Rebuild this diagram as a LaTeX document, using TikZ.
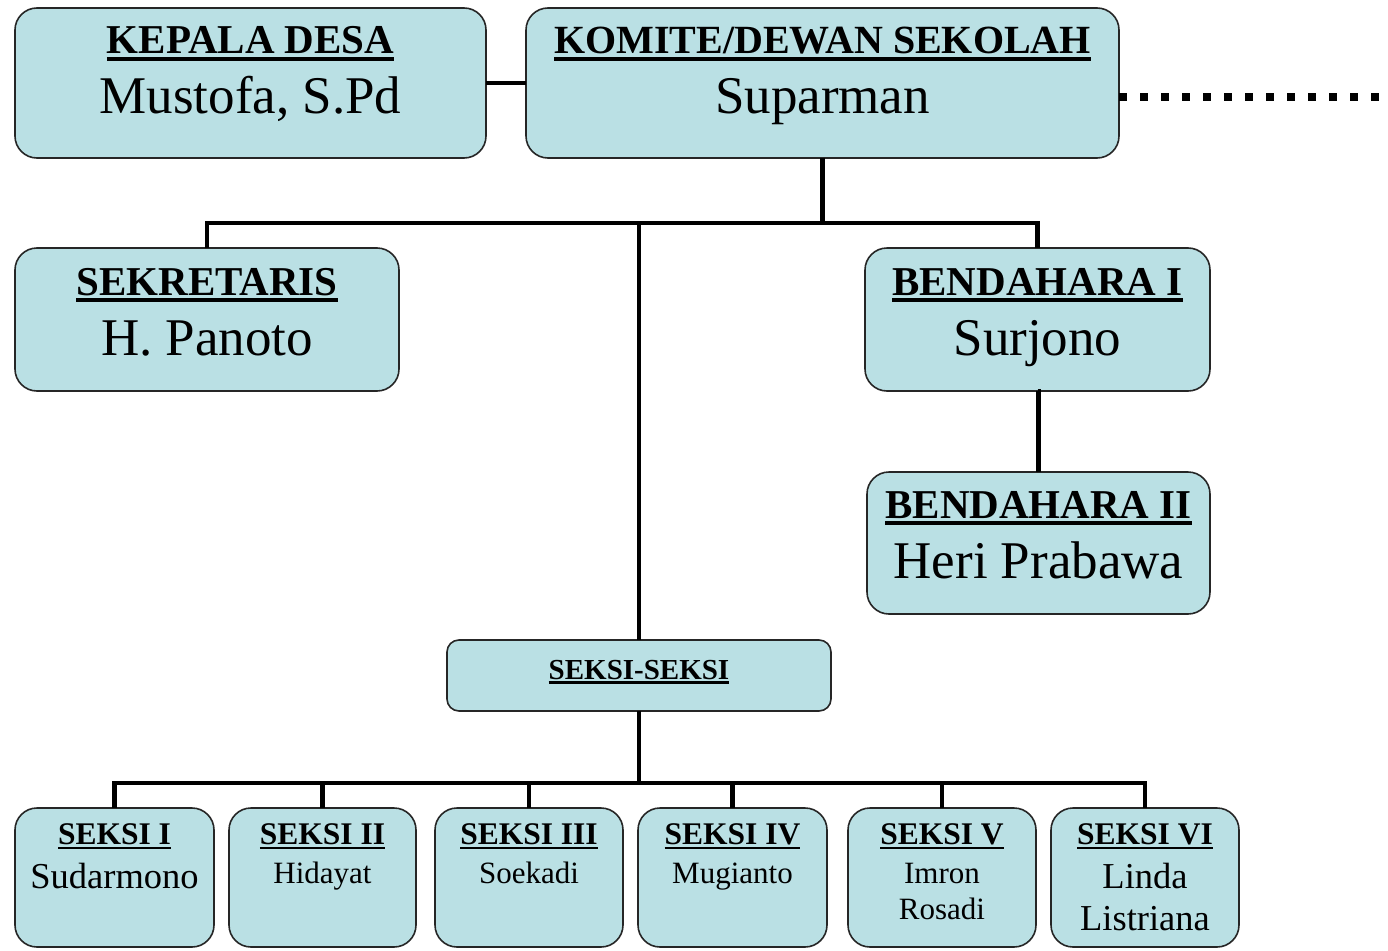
\documentclass[tikz,border=0pt]{standalone}
\usepackage{fontspec}
\setmainfont{Liberation Serif}
\definecolor{boxfill}{RGB}{186,224,228}
\newsavebox\ulbox
\newcommand\hdul[1]{\sbox\ulbox{#1}\rlap{\rule[-0.17em]{\wd\ulbox}{0.085em}}\usebox\ulbox}
\newcommand\hdtext[2]{{\fontsize{#1}{#1}\selectfont\bfseries\hdul{#2}}}
\newcommand\nmtext[2]{{\fontsize{#1}{#1}\selectfont #2}}
\tikzset{
  orgbox/.style={draw=black!85, line width=1.6pt, fill=boxfill, rounded corners=22pt, inner sep=0pt, outer sep=0pt},
  smallbox/.style={orgbox, rounded corners=12pt},
  conn/.style={line width=4.8pt, line join=miter},
  dotconn/.style={line width=8pt, dash pattern=on 8pt off 13pt},
  lbl/.style={anchor=base, inner sep=0pt, outer sep=0pt}
}
\begin{document}
\begin{tikzpicture}[x=1pt,y=-1pt]
\useasboundingbox (0,0) rectangle (1388,950);
% boxes
\node[orgbox, minimum width=471pt, minimum height=150pt] (kd) at (250.5,83) {};
\node[orgbox, minimum width=593pt, minimum height=150pt] (km) at (822.5,83) {};
\node[orgbox, minimum width=384pt, minimum height=143pt] (sek) at (207,319.5) {};
\node[orgbox, minimum width=345pt, minimum height=143pt] (ba) at (1037.5,319.5) {};
\node[orgbox, minimum width=343pt, minimum height=142pt] (bb) at (1038.5,543) {};
\node[smallbox, minimum width=384pt, minimum height=71pt] (ss) at (639,675.5) {};
\node[orgbox, minimum width=199pt, minimum height=139pt] (s1) at (114.5,877.5) {};
\node[orgbox, minimum width=187pt, minimum height=139pt] (s2) at (322.5,877.5) {};
\node[orgbox, minimum width=188pt, minimum height=139pt] (s3) at (529,877.5) {};
\node[orgbox, minimum width=189pt, minimum height=139pt] (s4) at (732.5,877.5) {};
\node[orgbox, minimum width=188pt, minimum height=139pt] (s5) at (942,877.5) {};
\node[orgbox, minimum width=188pt, minimum height=139pt] (s6) at (1145,877.5) {};
% texts
\node[lbl] (kdh) at (250.5,54) {\hdtext{41}{KEPALA DESA}};
\node[lbl] (kdn) at (250.5,113) {\nmtext{53}{Mustofa, S.Pd}};
\node[lbl] (kmh) at (822.5,54) {\hdtext{40}{KOMITE/DEWAN SEKOLAH}};
\node[lbl] (kmn) at (822.5,113) {\nmtext{53}{Suparman}};
\node[lbl] (sekh) at (207,295) {\hdtext{41}{SEKRETARIS}};
\node[lbl] (sekn) at (207,355) {\nmtext{53}{H. Panoto}};
\node[lbl] (bah) at (1037.5,295) {\hdtext{41}{BENDAHARA I}};
\node[lbl] (ban) at (1037.5,355) {\nmtext{53}{Surjono}};
\node[lbl] (bbh) at (1038.5,518) {\hdtext{41}{BENDAHARA II}};
\node[lbl] (bbn) at (1038.5,578) {\nmtext{53}{Heri Prabawa}};
\node[lbl] (ssh) at (639,679) {\hdtext{29}{SEKSI-SEKSI}};
\node[lbl] (s1h) at (114.5,844) {\hdtext{31.5}{SEKSI I}};
\node[lbl] (s1n) at (114.5,888) {\nmtext{36.5}{Sudarmono}};
\node[lbl] (s2h) at (322.5,844) {\hdtext{31.5}{SEKSI II}};
\node[lbl] (s2n) at (322.5,883) {\nmtext{31}{Hidayat}};
\node[lbl] (s3h) at (529,844) {\hdtext{31.5}{SEKSI III}};
\node[lbl] (s3n) at (529,883) {\nmtext{31}{Soekadi}};
\node[lbl] (s4h) at (732.5,844) {\hdtext{31.5}{SEKSI IV}};
\node[lbl] (s4n) at (732.5,883) {\nmtext{31}{Mugianto}};
\node[lbl] (s5h) at (942,844) {\hdtext{31.5}{SEKSI V}};
\node[lbl] (s5n) at (942,883) {\nmtext{31}{Imron}};
\node[lbl] (s5m) at (942,919) {\nmtext{31}{Rosadi}};
\node[lbl] (s6h) at (1145,844) {\hdtext{31.5}{SEKSI VI}};
\node[lbl] (s6n) at (1145,888) {\nmtext{36.5}{Linda}};
\node[lbl] (s6m) at (1145,930) {\nmtext{36.5}{Listriana}};
% junctions
\coordinate (j1) at (822.5,223);
\coordinate (j2) at (639,783);
\coordinate (dotend) at (1388,97);
% connectors
\draw[conn] (kd) -- (km);
\draw[dotconn] (km.east |- dotend) -- (dotend);
\draw[conn] (km.south) -- (j1);
\draw[conn] (sek.north) -- (sek.north |- j1) -- (ba.north |- j1) -- (ba.north);
\draw[conn] (ss.north |- j1) -- (ss.north);
\draw[conn] (ba.south) -- (ba.south -| bb.north) -- (bb.north);
\draw[conn] (ss.south) -- (j2);
\draw[conn] (s1.north) -- (s1.north |- j2) -- (s6.north |- j2) -- (s6.north);
\foreach \n in {s2,s3,s4,s5} \draw[conn] (\n.north) -- (\n.north |- j2);
\end{tikzpicture}
\end{document}
